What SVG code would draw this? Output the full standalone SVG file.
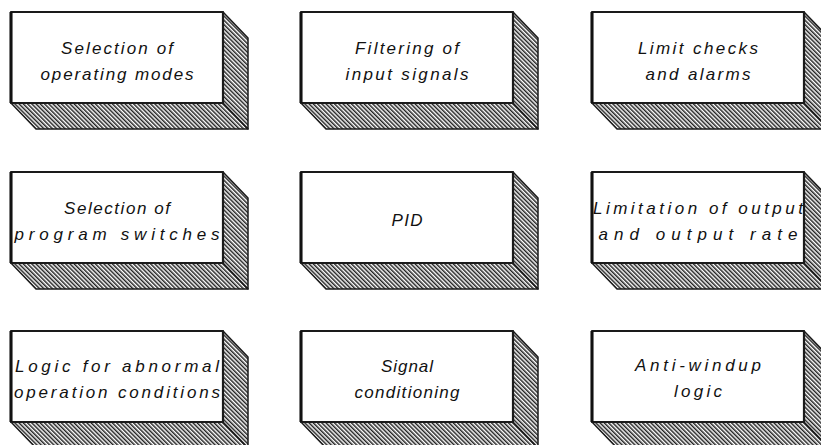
<svg xmlns="http://www.w3.org/2000/svg" xmlns:xlink="http://www.w3.org/1999/xlink" width="821" height="445" viewBox="0 0 821 445">
<style>
.lbl{font-family:"Liberation Sans","DejaVu Sans",sans-serif;font-style:italic;font-size:17px;fill:#111;text-anchor:middle;}
.face{fill:url(#hatch);stroke:#1a1a1a;stroke-width:1.5;stroke-linejoin:round;}
.front{fill:#fff;stroke:#1a1a1a;stroke-width:2.2;stroke-linejoin:round;}
</style>
<defs>
<pattern id="hatch" patternUnits="userSpaceOnUse" width="3" height="3" patternTransform="rotate(-45)">
<rect width="3" height="3" fill="#fff"/>
<line x1="0.75" y1="0" x2="0.75" y2="3" stroke="#222" stroke-width="1.5"/>
</pattern>
<g id="box">
<polygon class="face" points="0,91 212,91 237,117 25,117"/>
<polygon class="face" points="212,0 237,26 237,117 212,91"/>
<rect class="front" x="0" y="0" width="212" height="91"/>
<line x1="0" y1="0" x2="0" y2="91" stroke="#111" stroke-width="3"/>
</g>
</defs>
<rect width="821" height="445" fill="#fff"/>
<g id="node-selection-modes" transform="translate(11,12)">
<use xlink:href="#box"/>
<text class="lbl" x="106" y="42" textLength="112" lengthAdjust="spacing">Selection of</text>
<text class="lbl" x="106" y="68" textLength="153" lengthAdjust="spacing">operating modes</text>
</g>
<g id="node-filtering" transform="translate(301,12)">
<use xlink:href="#box"/>
<text class="lbl" x="106" y="42" textLength="104" lengthAdjust="spacing">Filtering of</text>
<text class="lbl" x="106" y="68" textLength="123" lengthAdjust="spacing">input signals</text>
</g>
<g id="node-limit-checks" transform="translate(592,12)">
<use xlink:href="#box"/>
<text class="lbl" x="106" y="42" textLength="120" lengthAdjust="spacing">Limit checks</text>
<text class="lbl" x="106" y="68" textLength="105" lengthAdjust="spacing">and alarms</text>
</g>
<g id="node-program-switches" transform="translate(11,172)">
<use xlink:href="#box"/>
<text class="lbl" x="106" y="42" textLength="106" lengthAdjust="spacing">Selection of</text>
<text class="lbl" x="106" y="68" textLength="205" lengthAdjust="spacing">program switches</text>
</g>
<g id="node-pid" transform="translate(301,172)">
<use xlink:href="#box"/>
<text class="lbl" x="106" y="54" textLength="31" lengthAdjust="spacing">PID</text>
</g>
<g id="node-limitation" transform="translate(592,172)">
<use xlink:href="#box"/>
<text class="lbl" x="106" y="42" textLength="210" lengthAdjust="spacing">Limitation of output</text>
<text class="lbl" x="106" y="68" textLength="199" lengthAdjust="spacing">and output rate</text>
</g>
<g id="node-abnormal-logic" transform="translate(11,331)">
<use xlink:href="#box"/>
<text class="lbl" x="106" y="41" textLength="204" lengthAdjust="spacing">Logic for abnormal</text>
<text class="lbl" x="106" y="67" textLength="206" lengthAdjust="spacing">operation conditions</text>
</g>
<g id="node-signal-conditioning" transform="translate(301,331)">
<use xlink:href="#box"/>
<text class="lbl" x="106" y="41" textLength="52" lengthAdjust="spacing">Signal</text>
<text class="lbl" x="106" y="67" textLength="105" lengthAdjust="spacing">conditioning</text>
</g>
<g id="node-anti-windup" transform="translate(592,331)">
<use xlink:href="#box"/>
<text class="lbl" x="106" y="40" textLength="126" lengthAdjust="spacing">Anti-windup</text>
<text class="lbl" x="106" y="66" textLength="48" lengthAdjust="spacing">logic</text>
</g>
</svg>
